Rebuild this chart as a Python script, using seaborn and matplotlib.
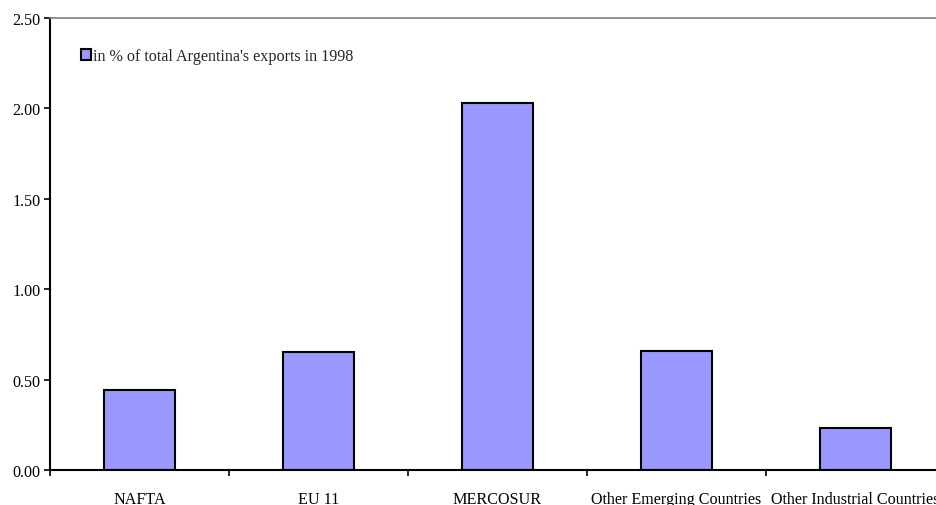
import matplotlib
matplotlib.use("Agg")
import matplotlib.pyplot as plt
import seaborn as sns
import pandas as pd
import numpy as np
from matplotlib.patches import Patch
from matplotlib.ticker import FormatStrFormatter, FixedLocator

categories = ["NAFTA", "EU 11", "MERCOSUR", "Other Emerging Countries", "Other Industrial Countries"]
values = [0.44, 0.65, 2.03, 0.66, 0.23]
series_name = "in % of total Argentina's exports in 1998"
y_ticks = [0.0, 0.5, 1.0, 1.5, 2.0, 2.5]

sns.set_theme(style="white")
plt.rcParams['font.family'] = ['Liberation Serif', 'DejaVu Serif']

FS = 11.6

df = pd.DataFrame({"cat": categories, "val": values})

fig = plt.figure(figsize=(9.37, 5.06), dpi=100)
ax = fig.add_axes([50/937, 35/506, 895/937, 452/506])
sns.barplot(data=df, x="cat", y="val", color="#9999FF", edgecolor="black",
            linewidth=1.5, width=0.4, saturation=1, ax=ax)

ax.set_xlim(-0.5, len(categories) - 0.5)
ax.set_ylim(0, 2.5)
ax.set_yticks(y_ticks)
ax.yaxis.set_major_formatter(FormatStrFormatter("%.2f"))
ax.set_xlabel("")
ax.set_ylabel("")

ax.xaxis.set_minor_locator(FixedLocator(np.arange(len(categories) + 1) - 0.5))
ax.tick_params(axis="x", which="major", length=0, pad=15, labelsize=FS, colors="black")
ax.tick_params(axis="x", which="minor", length=4, width=1.2, direction="out", color="black", bottom=True)
ax.tick_params(axis="y", which="major", length=4, width=1.2, direction="out", left=True,
               labelsize=FS, colors="black", pad=3)

for s in ["left", "bottom"]:
    ax.spines[s].set_color("black")
    ax.spines[s].set_linewidth(1.5)
ax.spines["top"].set_color("#808080")
ax.spines["top"].set_linewidth(1.2)
ax.spines["right"].set_visible(False)

handle = Patch(facecolor="#9999FF", edgecolor="black", linewidth=1.5)
leg = ax.legend([handle], [series_name], loc="upper left", bbox_to_anchor=(0.027, 0.948),
                frameon=False, handlelength=0.65, handleheight=0.65, handletextpad=0.1,
                fontsize=FS, borderaxespad=0)

fig.savefig("out.png", dpi=100)
